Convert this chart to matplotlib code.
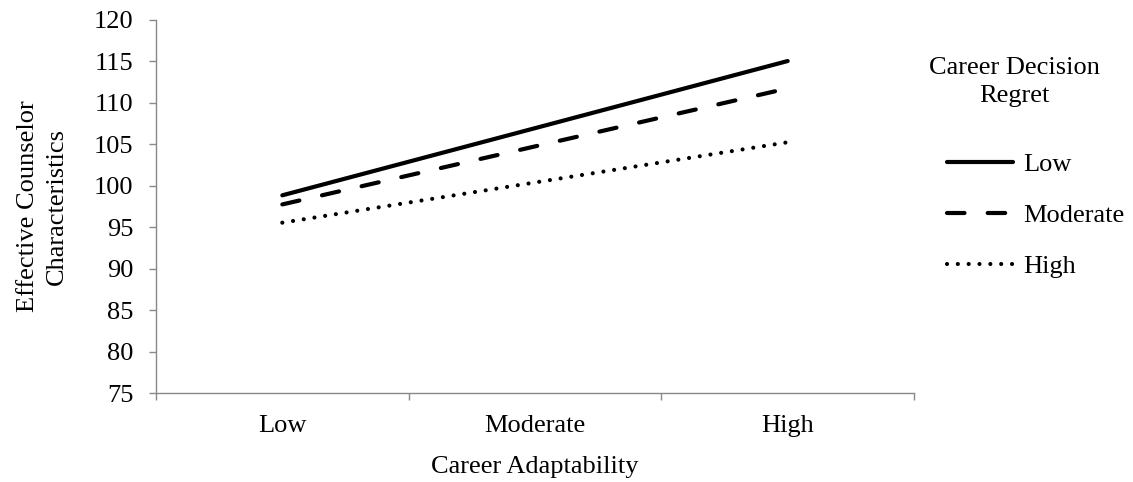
import matplotlib
matplotlib.use("Agg")
import matplotlib.pyplot as plt

categories = ["Low", "Moderate", "High"]
series_names = ["Low", "Moderate", "High"]
low_vals = [98.85, 106.95, 115.05]
moderate_vals = [97.75, 104.75, 111.75]
high_vals = [95.55, 100.40, 105.25]
y_ticks = [75, 80, 85, 90, 95, 100, 105, 110, 115, 120]

plt.rcParams['font.family'] = ['Liberation Serif', 'DejaVu Serif']
FS = 19

fig = plt.figure(figsize=(11.33, 4.82), dpi=100)
ax = fig.add_axes([156/1133, (482-393)/482, (914-156)/1133, (393-20)/482])

x = list(range(len(categories)))
lw = 3.0
l1, = ax.plot(x, low_vals, color='black', lw=lw, solid_capstyle='round', label=series_names[0])
l2, = ax.plot(x, moderate_vals, color='black', lw=lw, dashes=(4.2, 5.56), dash_capstyle='round', label=series_names[1])
l3, = ax.plot(x, high_vals, color='black', lw=lw, dashes=(0.001, 2.6), dash_capstyle='round', label=series_names[2])

ax.set_xlim(-0.5, 2.5)
ax.set_ylim(75, 120)
ax.set_yticks(y_ticks)
ax.set_xticks(x)
ax.set_xticklabels(categories)
ax.set_xticks([-0.5, 0.5, 1.5, 2.5], minor=True)

gray = '#898989'
for s in ['top', 'right']:
    ax.spines[s].set_visible(False)
for s in ['left', 'bottom']:
    ax.spines[s].set_color(gray)
    ax.spines[s].set_linewidth(1.0)

ax.tick_params(axis='y', which='major', length=5.2, width=1.0, color=gray, pad=11, labelsize=FS)
ax.tick_params(axis='x', which='major', length=0, pad=16, labelsize=FS)
ax.tick_params(axis='x', which='minor', length=5.2, width=1.0, color=gray)

ax.set_xlabel("Career Adaptability", fontsize=FS)
ax.xaxis.set_label_coords(0.5, (393-456.5)/373)
ax.set_ylabel("Effective Counselor\nCharacteristics", fontsize=FS, linespacing=1.4)
ax.yaxis.set_label_coords((67.5-156)/758, 0.5)

fig.text(1014/1133, (482-56.5)/482, "Career Decision\nRegret", ha='center', va='top',
         fontsize=FS, linespacing=1.4)

fig.legend(handles=[l1, l2, l3], loc='upper left', bbox_to_anchor=(947/1133, (482-152.5)/482),
           frameon=False, fontsize=FS, borderpad=0, borderaxespad=0,
           handlelength=2.5, handletextpad=0.38, labelspacing=1.04)

fig.savefig("out.png", dpi=100)
